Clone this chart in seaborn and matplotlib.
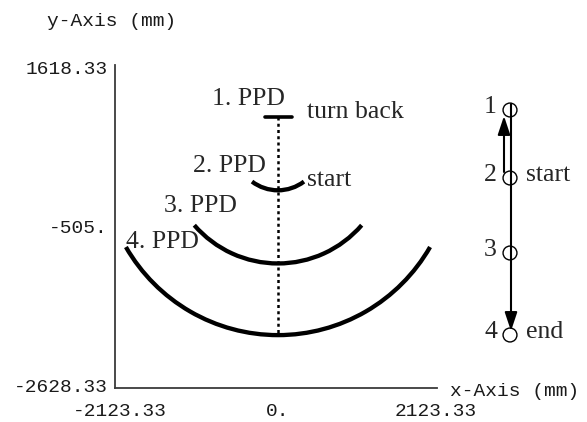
import matplotlib
matplotlib.use("Agg")
import matplotlib.pyplot as plt
from matplotlib.patches import Arc
import seaborn as sns

# axis ticks (mm)
x_ticks = [-2123.33, 0.0, 2123.33]
x_tick_labels = ["-2123.33", "0.", "2123.33"]
y_ticks = [-2628.33, -505.0, 1618.33]
y_tick_labels = ["-2628.33", "-505.", "1618.33"]

# PPD arcs 2-4: centre height, radius and half opening angle (deg)
arc_center_y = [560, 490, 400]
arc_radius = [580, 1490, 2360]
arc_half_angle = [37, 49, 60]

# 1. PPD is only a short flat stroke at the turning point
ppd1_x = [-175, 188]
ppd1_y = [968, 968]

# dotted path along x = 0
path_x = [0, 0]
path_y = [960, -1940]

# labels inside the plot
label_text = ["1. PPD", "turn back", "2. PPD", "start", "3. PPD", "4. PPD"]
label_x = [-887, 390, -1142, 390, -1532, -2043]
label_y = [1122, 948, 224, 37, -312, -794]

# schematic on the right (pixel-like units of the small panel)
station_names = ["1", "2", "3", "4"]
station_y = [110, 178, 253, 335]
station_notes = ["", "start", "", "end"]

sns.set_style("white")
plt.rcParams["font.family"] = ["Liberation Serif", "DejaVu Serif"]
mono = "Liberation Mono"
axis_grey = "#3a3a3a"

fig = plt.figure(figsize=(5.87, 4.22), dpi=100)
ax = fig.add_axes([115 / 587, 34 / 422, 322 / 587, 323 / 422])

for cy, r, h in zip(arc_center_y, arc_radius, arc_half_angle):
    ax.add_patch(Arc((0, cy), 2 * r, 2 * r, theta1=270 - h, theta2=270 + h,
                     lw=3.1, color="black"))

sns.lineplot(x=ppd1_x, y=ppd1_y, color="black", lw=2.6, ax=ax)
sns.lineplot(x=path_x, y=path_y, estimator=None, sort=False, color="black",
             lw=1.8, linestyle=(0, (1.2, 1.3)), ax=ax)

for t, x, y in zip(label_text, label_x, label_y):
    ax.text(x, y, t, fontsize=18.5, ha="left", va="baseline")

ax.set_xlim(-2190.5, 2137)
ax.set_ylim(-2668.5, 1658.5)
ax.set_xticks(x_ticks)
ax.set_xticklabels(x_tick_labels, family=mono, fontsize=14, color="#1a1a1a")
ax.set_yticks(y_ticks)
ax.set_yticklabels(y_tick_labels, family=mono, fontsize=14, color="#1a1a1a")
ax.tick_params(axis="both", direction="in", length=3, width=1, color=axis_grey)
ax.tick_params(axis="x", pad=10.5)
ax.tick_params(axis="y", pad=5)
for side in ["top", "right"]:
    ax.spines[side].set_visible(False)
for side in ["left", "bottom"]:
    ax.spines[side].set_color(axis_grey)
    ax.spines[side].set_linewidth(1.3)
ax.patch.set_alpha(0)

fig.text(111.5 / 587, 1 - 22 / 422, "y-Axis (mm)", family=mono, fontsize=14,
         color="#1a1a1a", ha="center", va="center")
fig.text(450 / 587, 1 - 391 / 422, "x-Axis (mm)", family=mono, fontsize=14,
         color="#1a1a1a", ha="left", va="center")

# schematic of the probe stations
ax2 = fig.add_axes([470 / 587, (422 - 350) / 422, 110 / 587, 260 / 422])
ax2.set_xlim(470, 580)
ax2.set_ylim(350, 90)
ax2.axis("off")

head = "-|>,head_length=0.75,head_width=0.25"
ax2.annotate("", xy=(504, 116), xytext=(504, 172),
             arrowprops=dict(arrowstyle=head, color="black", lw=1.5,
                             mutation_scale=15, shrinkA=0, shrinkB=0))
ax2.annotate("", xy=(511, 331), xytext=(511, 104),
             arrowprops=dict(arrowstyle=head, color="black", lw=1.5,
                             mutation_scale=15, shrinkA=0, shrinkB=0))

sns.scatterplot(x=[510] * len(station_y), y=station_y, marker="o", s=100,
                facecolor="none", edgecolor="black", linewidth=1, ax=ax2,
                zorder=3)

for name, y, note in zip(station_names, station_y, station_notes):
    ax2.text(497, y + 3, name, fontsize=18.5, ha="right", va="baseline")
    if note:
        ax2.text(526, y + 3, note, fontsize=18.5, ha="left", va="baseline")

fig.savefig("out.png", dpi=100)
